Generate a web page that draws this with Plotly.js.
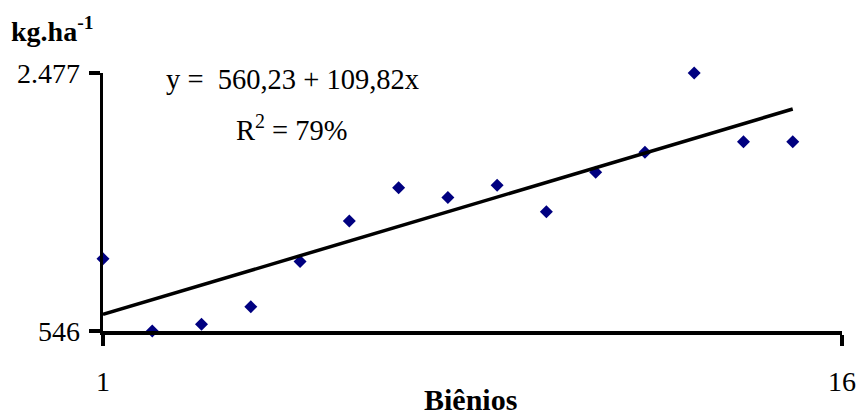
<!DOCTYPE html>
<html>
<head>
<meta charset="utf-8">
<script src="https://cdn.plot.ly/plotly-3.0.1.min.js"></script>
<style>
  html, body { margin: 0; padding: 0; background: #fff; }
  #chart { width: 858px; height: 412px; }
</style>
</head>
<body>
<div id="chart"></div>
<script>
// Production per biennium (kg.ha-1)
const bienio = [1, 2, 3, 4, 5, 6, 7, 8, 9, 10, 11, 12, 13, 14, 15];
const producao = [1086, 546, 596, 728, 1066, 1369, 1619, 1545, 1636, 1438, 1735, 1883, 2477, 1962, 1962];

// Linear trend: y = a + b x
const intercepto = 560.23;
const inclinacao = 109.82;
const r2 = 79;

// Axis ticks
const xTicks = [1, 16];
const xTickText = ['1', '16'];
const yTicks = [546, 2477];
const yTickText = ['546', '2.477'];

const serif = '"Liberation Serif", "Times New Roman", Times, serif';

const xMin = Math.min(...bienio), xMax = Math.max(...bienio);
const tendX = [xMin, xMax];
const tendY = tendX.map(x => intercepto + inclinacao * x);

const fmt = v => v.toFixed(2).replace('.', ',');

const dados = {
  x: bienio, y: producao,
  type: 'scatter', mode: 'markers',
  marker: { symbol: 'diamond', size: 10, color: '#000080', line: { width: 0 } },
  cliponaxis: false,
  hoverinfo: 'x+y'
};

const tendencia = {
  x: tendX, y: tendY,
  type: 'scatter', mode: 'lines',
  line: { color: '#000000', width: 3.5 },
  cliponaxis: false,
  hoverinfo: 'skip'
};

const layout = {
  width: 858, height: 412,
  margin: { l: 102.5, r: 16, t: 73, b: 80.5 },
  paper_bgcolor: '#ffffff',
  plot_bgcolor: '#ffffff',
  showlegend: false,
  font: { family: serif, size: 28, color: '#000' },
  xaxis: {
    range: [1, 16],
    tickmode: 'array', tickvals: xTicks, ticktext: xTickText,
    showline: true, linecolor: '#000', linewidth: 3.5,
    ticks: 'outside', ticklen: 11, tickwidth: 3.5, tickcolor: '#000',
    showgrid: false, zeroline: false,
    tickfont: { family: serif, size: 28, color: '#000' },
    ticklabelstandoff: 12
  },
  yaxis: {
    range: [546, 2477],
    tickmode: 'array', tickvals: yTicks, ticktext: yTickText,
    showline: true, linecolor: '#000', linewidth: 3.5,
    ticks: 'outside', ticklen: 11, tickwidth: 3.5, tickcolor: '#000',
    showgrid: false, zeroline: false,
    tickfont: { family: serif, size: 28, color: '#000' },
    ticklabelstandoff: 3
  },
  annotations: [
    {
      text: '<b>kg.ha<sup>-1</sup></b>',
      xref: 'paper', yref: 'paper', x: -0.127, y: 1.0, yshift: 24,
      xanchor: 'left', yanchor: 'bottom', showarrow: false,
      font: { family: serif, size: 28, color: '#000' }
    },
    {
      text: '<b>Biênios</b>',
      xref: 'paper', yref: 'paper', x: 0.497, y: 0, yshift: -50,
      xanchor: 'center', yanchor: 'top', showarrow: false,
      font: { family: serif, size: 30, color: '#000' }
    },
    {
      text: 'y =  ' + fmt(intercepto) + ' + ' + fmt(inclinacao) + 'x',
      xref: 'x', yref: 'y', x: 4.84, y: 2430,
      xanchor: 'center', yanchor: 'middle', showarrow: false,
      font: { family: serif, size: 28.5, color: '#000' }
    },
    {
      text: 'R<sup>2</sup> = ' + r2 + '%',
      xref: 'x', yref: 'y', x: 4.84, y: 2065,
      xanchor: 'center', yanchor: 'middle', showarrow: false,
      font: { family: serif, size: 28.5, color: '#000' }
    }
  ]
};

Plotly.newPlot('chart', [dados, tendencia], layout, { displayModeBar: false, staticPlot: true });
</script>
</body>
</html>
